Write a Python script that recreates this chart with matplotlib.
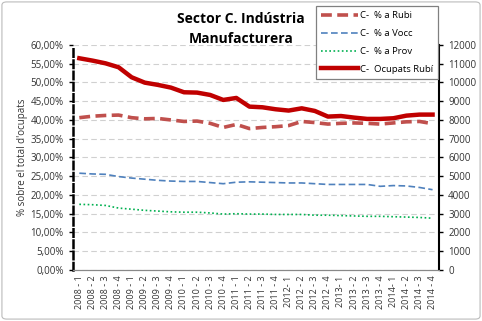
import matplotlib.pyplot as plt
from matplotlib.ticker import FuncFormatter
from matplotlib.patches import FancyBboxPatch

plt.rcParams['font.family'] = ['Open Sans', 'DejaVu Sans']

# trimestres 2008-1 .. 2014-4
trimestres = []
for any_ in range(2008, 2015):
    for t in range(1, 5):
        sep = '- ' if (t == 1 and any_ >= 2012) else ' - '
        trimestres.append(f'{any_}{sep}{t}')

pct_rubi = [40.6, 41.0, 41.2, 41.3, 40.6, 40.3, 40.4, 40.0, 39.6, 39.7, 39.1, 38.0,
            38.8, 37.7, 38.0, 38.2, 38.5, 39.6, 39.3, 38.9, 39.1, 39.2, 39.1, 38.9,
            39.2, 39.5, 39.6, 39.0]
pct_vocc = [25.8, 25.6, 25.5, 24.9, 24.5, 24.2, 23.9, 23.7, 23.6, 23.6, 23.3, 23.0,
            23.4, 23.5, 23.4, 23.3, 23.2, 23.2, 23.0, 22.8, 22.8, 22.8, 22.8, 22.3,
            22.5, 22.4, 22.0, 21.4]
pct_prov = [17.5, 17.4, 17.2, 16.5, 16.2, 15.9, 15.7, 15.5, 15.4, 15.4, 15.2, 14.9,
            15.0, 14.9, 14.9, 14.8, 14.8, 14.8, 14.6, 14.6, 14.5, 14.4, 14.3, 14.3,
            14.2, 14.1, 14.0, 13.8]
ocupats_rubi = [11290, 11165, 11020, 10810, 10275, 9990, 9870, 9725, 9476, 9458, 9333, 9067,
                9173, 8710, 8675, 8570, 8500, 8620, 8480, 8180, 8210, 8125, 8055, 8055,
                8090, 8230, 8285, 8285]

fig = plt.figure(figsize=(4.82, 3.21), dpi=100)
ax = fig.add_axes([0.151, 0.159, 0.76, 0.701])
ax2 = ax.twinx()

x = range(len(trimestres))
l1, = ax.plot(x, pct_rubi, color='#C0504D', lw=2.6, ls=(0, (3, 1.5)), label='C-  % a Rubi')
l2, = ax.plot(x, pct_vocc, color='#4F81BD', lw=1.2, ls=(0, (4, 2)), label='C-  % a Vocc')
l3, = ax.plot(x, pct_prov, color='#00B050', lw=1.2, ls=(0, (1, 1.5)), label='C-  % a Prov')
l4, = ax2.plot(x, ocupats_rubi, color='#C00000', lw=3.2, label='C-  Ocupats Rubí')

ax.set_ylim(0, 60)
ax.set_yticks(range(0, 61, 5))
ax.yaxis.set_major_formatter(FuncFormatter(lambda v, p: f'{v:.2f}%'.replace('.', ',')))
ax2.set_ylim(0, 12000)
ax2.set_yticks(range(0, 12001, 1000))
ax.set_xlim(-0.5, len(trimestres) - 0.5)
ax.set_xticks(list(x))
ax.set_xticklabels(trimestres, rotation=90, fontsize=6.5, color='#333333')
ax.tick_params(axis='x', length=0, pad=4)
ax.tick_params(axis='y', labelsize=7, length=3, width=1, color='black', labelcolor='#333333')
ax2.tick_params(axis='y', labelsize=7, length=3, width=1, color='black', labelcolor='#333333')
ax.grid(axis='y', color='#D0D0D0', ls=(0, (5, 3)), lw=0.8)
ax.set_axisbelow(True)

for a in (ax, ax2):
    a.spines['top'].set_visible(False)
ax.spines['left'].set_linestyle((0, (3, 1.5)))
ax.spines['left'].set_linewidth(1.8)
ax2.spines['left'].set_visible(False)
ax.spines['right'].set_visible(False)
ax2.spines['right'].set_linewidth(1.5)
ax2.spines['bottom'].set_color('#888888')
ax.spines['bottom'].set_color('#888888')

ax.set_ylabel("% sobre el total d'ocupats", fontsize=7, color='#333333', labelpad=2)

fig.text(0.50, 0.94, 'Sector C. Indústria', ha='center', va='center',
         fontsize=10, fontweight='bold')
fig.text(0.50, 0.88, 'Manufacturera', ha='center', va='center',
         fontsize=10, fontweight='bold')

leg = fig.legend(handles=[l1, l2, l3, l4], loc='upper left',
                 bbox_to_anchor=(0.645, 0.997), fontsize=6.8, frameon=True,
                 fancybox=False, edgecolor='#808080', facecolor='white', framealpha=1,
                 handlelength=3.9, labelspacing=0.95, borderpad=0.55, handletextpad=0.2)
leg.get_frame().set_linewidth(0.9)

border = FancyBboxPatch((0.004, 0.006), 0.992, 0.988, boxstyle='round,pad=0,rounding_size=0.01',
                        transform=fig.transFigure, fill=False, edgecolor='#BBBBBB', lw=0.8)
fig.patches.append(border)

fig.savefig('out.png', dpi=100)
